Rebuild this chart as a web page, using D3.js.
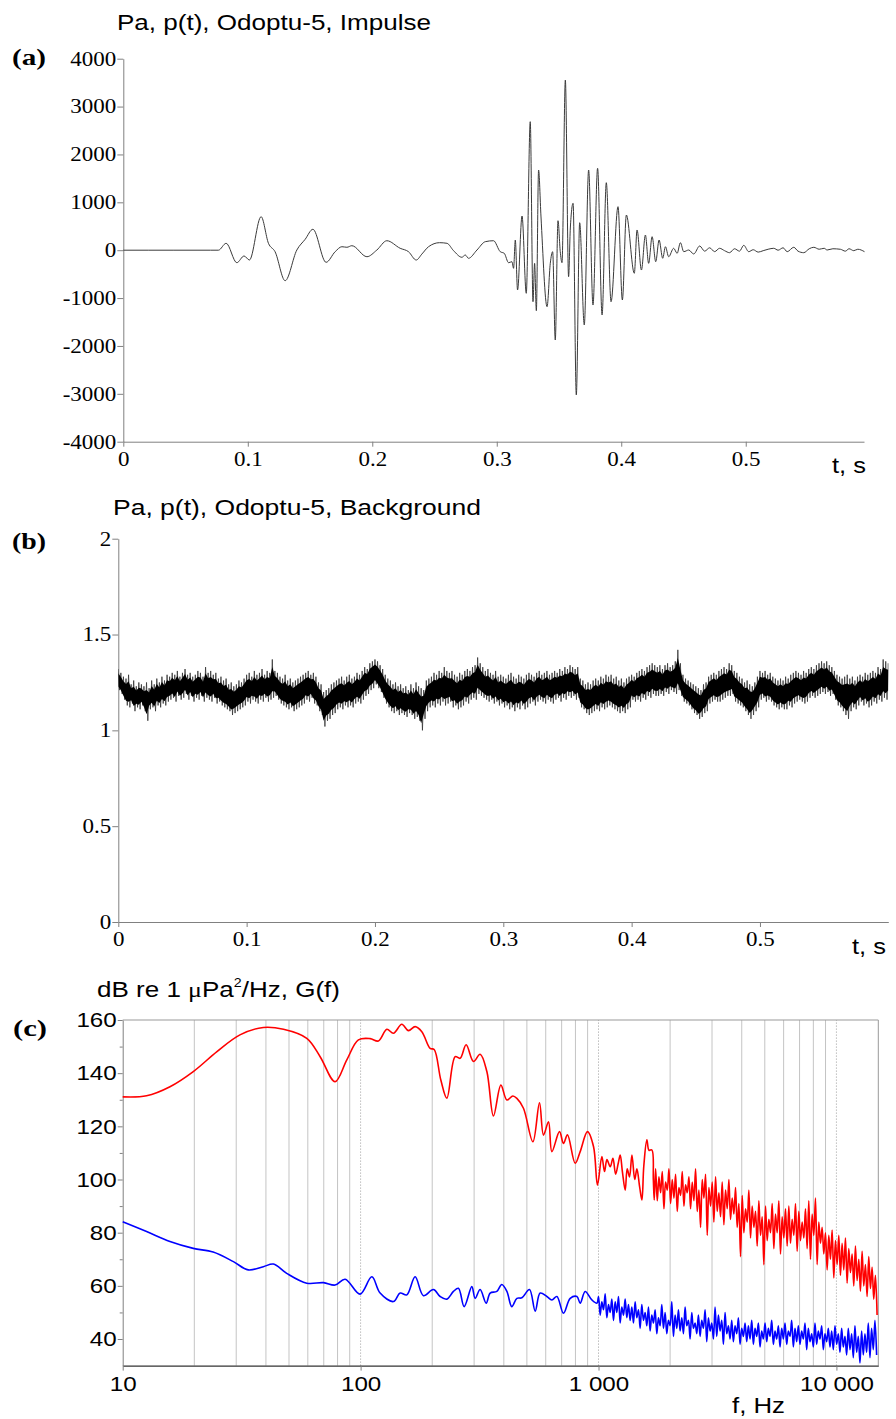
<!DOCTYPE html>
<html>
<head>
<meta charset="utf-8">
<script src="https://cdn.jsdelivr.net/npm/d3@7"></script>
<style>
  body { margin: 0; background: #fff; }
</style>
</head>
<body>
<script>
// (a) impulse: time (s) and pressure (Pa)
const impT = [0, 0.02, 0.04, 0.06, 0.07, 0.0764, 0.0826, 0.0912, 0.0970, 0.1013, 0.1107, 0.1166, 0.1219, 0.1300,
  0.1394, 0.1461, 0.1523, 0.1629, 0.1702, 0.1756, 0.1796, 0.1836, 0.1957, 0.2037,
  0.2117, 0.2224, 0.2291, 0.2353, 0.2399, 0.2452, 0.2540, 0.2600, 0.2653, 0.2720,
  0.2747, 0.2773, 0.2841, 0.2908, 0.2974, 0.3028, 0.3060, 0.3095, 0.3122, 0.3135,
  0.3149, 0.3167, 0.3203, 0.3237, 0.3269, 0.3291, 0.3304, 0.3318, 0.3336, 0.3355,
  0.3404, 0.3430, 0.3449, 0.3470, 0.3492, 0.3510, 0.3524, 0.3551, 0.3577, 0.3591,
  0.3613, 0.3639, 0.3666, 0.3703, 0.3738, 0.3773, 0.3810, 0.3846, 0.3880, 0.3918,
  0.3974, 0.4009, 0.4041, 0.4105, 0.4127, 0.4162, 0.4194, 0.4220, 0.4248, 0.4277,
  0.4304, 0.4333, 0.4355, 0.4381, 0.4421, 0.4449, 0.4475, 0.4502, 0.4542, 0.4582,
  0.4630, 0.4670, 0.4710, 0.4750, 0.4790, 0.4830, 0.4870, 0.4910, 0.4950, 0.4984,
  0.5024, 0.5060, 0.5100, 0.5140, 0.5180, 0.5225, 0.5260, 0.5300, 0.5333, 0.5386,
  0.5420, 0.5466, 0.5510, 0.5547, 0.5590, 0.5630, 0.5654, 0.5700, 0.5761, 0.5800,
  0.5830, 0.5868, 0.5900, 0.5954];
const impP = [0, 0, 0, 0, 0, 0, 144, -261, -121, -205, 700, 144, -31, -637,
  4, 228, 437, -253, -31, 73, 61, 94, -136, 4,
  198, 40, -31, -205, -79, 73, 157, 144, -10, -148,
  -100, -169, 4, 178, 198, -31, -65, -261, -240, -378,
  213, -831, 714, -900, 2684, -1076, -274, -1264, 1675, 714,
  -1180, -274, -31, -1876, 616, -31, -261, 3555, -553, 464,
  980, -3024, 574, -1562, 1675, -1145, 1711, -1353, 1410, -1076,
  909, -1040, 735, -482, 422, -414, 317, -274, 282, -240,
  213, -169, 73, -136, 40, -65, 157, -31, 4, -79,
  88, -20, 50, -30, 40, -10, -52, 30, -20, 102,
  -31, 10, -40, -10, 20, 40, 0, 50, -31, 61,
  -20, -52, 30, 61, 20, 40, 4, 30, 19, -20,
  30, -10, 20, -31];

// (b) background: upper / lower edge of the noise every 2 ms
const bgStep = 0.002;
const bgHi = [
  1.32,1.30,1.28,1.27,1.29,1.24,1.26,1.23,1.25,1.24, 1.23,1.25,1.22,1.26,1.24,1.27,1.25,1.28,1.26,1.29,
  1.28,1.30,1.29,1.31,1.28,1.30,1.32,1.29,1.30,1.28, 1.29,1.31,1.30,1.28,1.33,1.30,1.31,1.29,1.30,1.27,
  1.28,1.26,1.27,1.24,1.25,1.23,1.24,1.26,1.25,1.27, 1.29,1.30,1.28,1.31,1.29,1.30,1.32,1.29,1.31,1.30,
  1.37,1.31,1.30,1.28,1.27,1.29,1.26,1.27,1.25,1.26, 1.27,1.28,1.29,1.30,1.31,1.29,1.30,1.28,1.25,1.24,
  1.20,1.21,1.22,1.24,1.25,1.26,1.27,1.28,1.26,1.28, 1.29,1.27,1.28,1.30,1.29,1.31,1.33,1.32,1.35,1.36,
  1.37,1.36,1.34,1.32,1.29,1.27,1.26,1.24,1.25,1.23, 1.24,1.22,1.23,1.21,1.24,1.22,1.25,1.23,1.22,1.21,
  1.26,1.27,1.28,1.30,1.29,1.31,1.30,1.33,1.31,1.30, 1.31,1.29,1.28,1.30,1.29,1.31,1.32,1.31,1.33,1.34,
  1.38,1.35,1.33,1.31,1.32,1.30,1.29,1.31,1.28,1.29, 1.28,1.27,1.29,1.30,1.28,1.27,1.29,1.28,1.27,1.29,
  1.30,1.29,1.28,1.30,1.31,1.29,1.30,1.31,1.29,1.30, 1.31,1.30,1.32,1.31,1.33,1.32,1.34,1.33,1.32,1.33,
  1.27,1.26,1.24,1.25,1.24,1.26,1.27,1.26,1.28,1.27, 1.29,1.28,1.29,1.27,1.28,1.26,1.27,1.25,1.27,1.28,
  1.29,1.28,1.30,1.31,1.32,1.31,1.33,1.34,1.35,1.34, 1.33,1.34,1.32,1.34,1.35,1.33,1.34,1.36,1.42,1.35,
  1.29,1.27,1.26,1.25,1.24,1.23,1.22,1.21,1.24,1.25, 1.28,1.29,1.30,1.29,1.31,1.32,1.33,1.32,1.35,1.34,
  1.31,1.30,1.28,1.27,1.25,1.26,1.24,1.23,1.25,1.28, 1.31,1.30,1.31,1.29,1.30,1.28,1.27,1.26,1.27,1.26,
  1.28,1.27,1.29,1.30,1.31,1.30,1.29,1.31,1.30,1.32, 1.33,1.32,1.34,1.35,1.36,1.35,1.36,1.34,1.33,1.31,
  1.29,1.28,1.27,1.28,1.29,1.27,1.28,1.26,1.28,1.29, 1.28,1.30,1.29,1.30,1.31,1.30,1.33,1.32,1.37,1.36,
  1.35];
const bgLo = [
  1.21,1.19,1.16,1.13,1.12,1.14,1.10,1.12,1.11,1.13, 1.10,1.05,1.11,1.12,1.10,1.13,1.12,1.14,1.13,1.15,
  1.16,1.17,1.15,1.18,1.16,1.17,1.19,1.16,1.18,1.15, 1.17,1.16,1.18,1.15,1.17,1.16,1.15,1.17,1.14,1.15,
  1.13,1.12,1.11,1.10,1.08,1.09,1.10,1.11,1.12,1.13, 1.15,1.14,1.16,1.15,1.14,1.16,1.15,1.17,1.15,1.16,
  1.17,1.18,1.16,1.14,1.13,1.12,1.11,1.12,1.10,1.11, 1.12,1.13,1.14,1.16,1.15,1.17,1.14,1.13,1.10,1.08,
  1.02,1.05,1.06,1.08,1.09,1.11,1.12,1.11,1.13,1.12, 1.13,1.12,1.14,1.15,1.14,1.16,1.18,1.19,1.21,1.22,
  1.24,1.22,1.20,1.17,1.14,1.12,1.10,1.09,1.10,1.08, 1.09,1.08,1.07,1.09,1.08,1.06,1.07,1.05,1.00,1.06,
  1.10,1.12,1.13,1.12,1.14,1.13,1.15,1.13,1.14,1.15, 1.12,1.13,1.11,1.12,1.13,1.15,1.14,1.16,1.17,1.16,
  1.19,1.18,1.17,1.16,1.15,1.16,1.14,1.15,1.13,1.14, 1.12,1.13,1.11,1.12,1.10,1.12,1.11,1.13,1.11,1.12,
  1.14,1.15,1.13,1.15,1.16,1.15,1.14,1.16,1.15,1.14, 1.16,1.17,1.15,1.17,1.16,1.18,1.17,1.18,1.16,1.17,
  1.12,1.11,1.09,1.08,1.09,1.10,1.11,1.10,1.12,1.11, 1.12,1.13,1.12,1.11,1.10,1.09,1.10,1.09,1.11,1.12,
  1.16,1.15,1.16,1.15,1.17,1.16,1.18,1.17,1.19,1.18, 1.18,1.19,1.18,1.20,1.19,1.21,1.20,1.19,1.21,1.18,
  1.15,1.14,1.13,1.11,1.09,1.08,1.06,1.07,1.09,1.10, 1.14,1.15,1.16,1.15,1.15,1.16,1.17,1.18,1.18,1.19,
  1.15,1.14,1.13,1.12,1.10,1.08,1.06,1.08,1.10,1.12, 1.16,1.17,1.15,1.16,1.15,1.13,1.12,1.11,1.12,1.11,
  1.11,1.13,1.12,1.14,1.15,1.16,1.15,1.14,1.15,1.17, 1.18,1.17,1.18,1.19,1.20,1.19,1.20,1.18,1.19,1.16,
  1.13,1.12,1.10,1.08,1.06,1.10,1.12,1.11,1.13,1.15, 1.13,1.14,1.12,1.13,1.15,1.14,1.16,1.15,1.17,1.16,
  1.18];

// (c) spectra: smooth part as (Hz, dB) pairs, noisy part on a log10(f) grid
const redF = [10, 12.6, 15.8, 19.8, 24.9, 31.1, 39, 47.4, 59.4, 67.6, 78.1, 87.5, 97.9, 109.6, 118.8,
  128.9, 137.4, 149, 158.9, 169.5, 180.9, 196, 203.8, 217.4, 230.4, 249.7, 262.1, 277.7, 298.1, 318,
  339.4, 361.8, 388.7, 412, 436.5, 453.8, 483.7, 529.9, 564.8, 587.1, 616.3, 636.8, 685.5, 712.5, 740.6,
  798, 837.5, 898.7, 952.8, 990, 1033, 1060, 1085, 1120, 1150, 1180, 1210, 1234, 1260, 1295,
  1320, 1350, 1382, 1420, 1450, 1490, 1522, 1550, 1597, 1630, 1677, 1700, 1715];
const redDb = [131.1, 131.5, 134.9, 140.6, 148.1, 154.4, 157.2, 156.5, 153.1, 146.2, 136.8, 145, 152.5, 153, 152.1,
  156.5, 155, 158.4, 156, 157.5, 155.6, 149.3, 148.9, 137.4, 130.6, 146.2, 145.6, 150.7, 144.4, 147.1,
  140.6, 123.9, 135.5, 129.9, 131.4, 130.5, 126.8, 114.2, 128.9, 116.7, 121.7, 110.5, 118, 113.6, 116.8,
  106.1, 110.5, 118, 112.4, 97.9, 108.6, 103, 107.5, 104.8, 108, 102, 106, 109.2, 103, 96,
  104, 101, 109.2, 100, 104, 97, 92.3, 105, 114.9, 111, 111.1, 100, 92.3];
const noiseStep = 0.007;
const redNoiseStart = 3.24;
const redNoiseDb = [104, 92, 101, 95, 103, 89, 99, 96, 104, 91,
  100, 93, 102, 88, 97, 94, 103, 90, 98, 95,
  101, 89, 99, 92, 104, 88, 96, 82, 100, 93,
  102, 79, 97, 90, 99, 84, 101, 88, 95, 86,
  99, 83, 96, 89, 100, 85, 93, 87, 97, 82,
  91, 71, 94, 80, 89, 84, 96, 78, 90, 82,
  88, 75, 92, 79, 86, 68, 90, 77, 85, 80,
  91, 74, 87, 80, 92, 72, 86, 78, 89, 75,
  90, 76, 85, 79, 91, 73, 88, 77, 84, 78,
  89, 74, 92, 70, 87, 79, 93, 68, 84, 76,
  82, 72, 80, 66, 79, 70, 81, 63, 77, 68,
  79, 64, 76, 66, 78, 61, 74, 65, 72, 60,
  75, 62, 70, 58, 73, 60, 68, 56, 71, 59,
  67, 55, 64, 49];
const blueF = [10, 12.6, 15.8, 19.8, 24, 29.2, 33.7, 39, 43, 48.9, 59.4, 69.8, 78.1, 86.1, 99.5,
  111.5, 120.8, 137.4, 146.6, 156.4, 169.5, 183.7, 202.4, 215.9, 230.4, 245.6, 257.8, 272.4, 293.5, 303,
  318, 337.2, 350.4, 373.8, 392, 412, 432, 454, 476, 512.7, 541.8, 568.6, 606.7, 636.8, 668.5,
  712.5, 760.3, 811.5, 837.5, 879, 938, 984.7];
const blueDb = [84.1, 80.4, 76.7, 74.1, 72.7, 69.1, 66, 67.2, 68.2, 64.7, 61, 61.2, 60.3, 62.5, 56.9,
  63.4, 57.3, 54.1, 57.3, 56.6, 63.4, 56.3, 58.6, 56, 55, 57.9, 59.1, 52.2, 59.7, 55.3,
  58.6, 53.5, 57.3, 57.9, 60.5, 57.9, 52.2, 55.3, 55.5, 58.6, 50.5, 57.3, 56, 54.7, 56,
  49.7, 55.3, 56, 53.5, 57.9, 54.7, 53.5];
const blueNoiseStart = 3.0;
const blueNoiseDb = [56, 49, 54, 51, 57, 48, 53, 50, 55, 47,
  54, 50, 56, 46, 52, 49, 55, 48, 53, 47,
  52, 46, 54, 48, 51, 44, 53, 47, 50, 45,
  52, 43, 49, 46, 51, 42, 48, 45, 53, 44,
  50, 42, 47, 45, 54, 41, 49, 44, 51, 43,
  48, 42, 52, 45, 47, 40, 50, 44, 46, 42,
  49, 41, 47, 44, 51, 39, 48, 43, 46, 40,
  52, 41, 49, 43, 47, 38, 50, 42, 45, 40,
  47, 39, 45, 42, 48, 38, 44, 41, 46, 39,
  45, 40, 47, 38, 44, 41, 46, 37, 43, 40,
  46, 39, 44, 41, 47, 38, 43, 40, 45, 37,
  44, 40, 46, 38, 43, 41, 47, 37, 44, 39,
  45, 38, 43, 40, 46, 36, 44, 39, 42, 37,
  46, 38, 43, 40, 45, 36, 42, 39, 44, 37,
  43, 36, 45, 38, 42, 35, 44, 37, 41, 34,
  44, 36, 42, 33, 45, 35, 41, 31, 43, 34,
  42, 35, 46, 33, 44, 36, 47, 34];

// ticks
const tTicks = [0, 0.1, 0.2, 0.3, 0.4, 0.5];
const pTicks = [-4000, -3000, -2000, -1000, 0, 1000, 2000, 3000, 4000];
const bTicks = [0, 0.5, 1, 1.5, 2];
const fTicks = [10, 100, 1000, 10000];
const fTickLabels = ["10", "100", "1 000", "10 000"];
const dbTicks = [40, 60, 80, 100, 120, 140, 160];
const dbMinor = [50, 70, 90, 110, 130, 150];
const gridF = [20, 30, 40, 50, 60, 70, 80, 90, 200, 300, 400, 500, 600, 700, 800, 900,
  2000, 3000, 4000, 5000, 6000, 7000, 8000, 9000];
const dotF = [100, 1000, 10000];

const serif = "'Liberation Serif', 'Times New Roman', serif";
const sans = "'Liberation Sans', Arial, sans-serif";
const axisGrey = "#808080";

const svg = d3.select("body").append("svg")
  .attr("width", 896).attr("height", 1419);

function styleAxis(g, font, size) {
  g.attr("font-family", font).attr("font-size", size);
  g.selectAll(".domain, .tick line").attr("stroke", axisGrey);
  g.selectAll("text").attr("fill", "#000").classed("st", true);
}

function addText(x, y, txt, font, size, len, bold) {
  return svg.append("text")
    .attr("x", x).attr("y", y)
    .attr("font-family", font).attr("font-size", size)
    .attr("font-weight", bold ? "bold" : "normal")
    .attr("textLength", len).attr("lengthAdjust", "spacingAndGlyphs")
    .text(txt);
}

//Panel (a)
const xA = d3.scaleLinear().domain([0, 0.595]).range([123.3, 864]);
const yA = d3.scaleLinear().domain([-4000, 4000]).range([441.7, 58.7]);

svg.append("g").attr("transform", "translate(0,441.7)")
  .call(d3.axisBottom(xA).tickValues(tTicks).tickFormat(d => String(d))
    .tickSize(5).tickSizeOuter(0).tickPadding(5))
  .call(styleAxis, serif, 20);
svg.append("g").attr("transform", "translate(123.3,0)")
  .call(d3.axisLeft(yA).tickValues(pTicks).tickFormat(d => String(d))
    .tickSize(6).tickSizeOuter(0).tickPadding(1))
  .call(styleAxis, serif, 20);

svg.append("path")
  .datum(impT.map((t, i) => [t, impP[i]]))
  .attr("fill", "none")
  .attr("stroke", "#3a3a3a")
  .attr("stroke-width", 1)
  .attr("d", d3.line().x(d => xA(d[0])).y(d => yA(d[1])).curve(d3.curveMonotoneX));

addText(117, 30, "Pa, p(t), Odoptu-5, Impulse", sans, 22, 314);
addText(12, 65, "(a)", serif, 24, 34, true);
addText(832, 473, "t, s", sans, 22, 34);

//Panel (b)
const xB = d3.scaleLinear().domain([0, 0.6]).range([118.3, 888.3]);
const yB = d3.scaleLinear().domain([0, 2]).range([922, 538.7]);

svg.append("defs").append("clipPath").attr("id", "clipB")
  .append("rect").attr("x", 118.3).attr("y", 530).attr("width", 770).attr("height", 392);

svg.append("g").attr("transform", "translate(0,922)")
  .call(d3.axisBottom(xB).tickValues(tTicks).tickFormat(d => String(d))
    .tickSize(5).tickSizeOuter(0).tickPadding(5))
  .call(styleAxis, serif, 20);
svg.append("g").attr("transform", "translate(118.3,0)")
  .call(d3.axisLeft(yB).tickValues(bTicks).tickFormat(d => String(d))
    .tickSize(6).tickSizeOuter(0).tickPadding(1))
  .call(styleAxis, serif, 20);

const bg = bgHi.map((h, i) => ({ t: i * bgStep, hi: h, lo: bgLo[i] }));
const plotB = svg.append("g").attr("clip-path", "url(#clipB)");

plotB.append("path")
  .datum(bg.flatMap(d => [[d.t, d.hi], [d.t + bgStep / 2, d.lo]]))
  .attr("fill", "none")
  .attr("stroke", "#333")
  .attr("stroke-width", 0.8)
  .attr("d", d3.line().x(d => xB(d[0])).y(d => yB(d[1])));

plotB.append("path")
  .datum(bg)
  .attr("fill", "#000")
  .attr("d", d3.area()
    .x(d => xB(d.t))
    .y0(d => yB(d.lo + 0.17 * (d.hi - d.lo)))
    .y1(d => yB(d.lo + 0.8 * (d.hi - d.lo))));

addText(113, 515, "Pa, p(t), Odoptu-5, Background", sans, 22, 368);
addText(12, 549, "(b)", serif, 24, 34, true);
addText(852, 954, "t, s", sans, 22, 34);

//Panel (c)
const xC = d3.scaleLog().domain([10, 15000]).range([122.7, 878.3]);
const yC = d3.scaleLinear().domain([30, 160]).range([1365.6, 1020]);

svg.append("g").selectAll("line").data(gridF).enter().append("line")
  .attr("x1", d => xC(d)).attr("x2", d => xC(d))
  .attr("y1", yC(30)).attr("y2", yC(160))
  .attr("stroke", "#c4c4c4").attr("stroke-width", 1);
svg.append("g").selectAll("line").data(dotF).enter().append("line")
  .attr("x1", d => xC(d)).attr("x2", d => xC(d))
  .attr("y1", yC(30)).attr("y2", yC(160))
  .attr("stroke", "#9a9a9a").attr("stroke-width", 1).attr("stroke-dasharray", "1,2");

// frame top and right
svg.append("path")
  .attr("d", `M${xC(10)},${yC(160)}H${xC(15000)}V${yC(30)}`)
  .attr("fill", "none").attr("stroke", "#999").attr("stroke-width", 1);

svg.append("g").attr("transform", `translate(0,${yC(30)})`)
  .call(d3.axisBottom(xC).tickValues(fTicks).tickFormat((d, i) => fTickLabels[i])
    .tickSize(5).tickSizeOuter(0).tickPadding(5))
  .call(styleAxis, sans, 21)
  .call(g => g.select(".domain").attr("stroke", "#333").attr("stroke-width", 1.3));
svg.append("g").attr("transform", `translate(${xC(10)},0)`)
  .call(d3.axisLeft(yC).tickValues(dbTicks).tickSize(5).tickSizeOuter(0).tickPadding(1))
  .call(styleAxis, sans, 21);
svg.append("g").attr("transform", `translate(${xC(10)},0)`)
  .call(d3.axisLeft(yC).tickValues(dbMinor).tickFormat("").tickSize(3).tickSizeOuter(0))
  .call(g => g.select(".domain").remove())
  .call(g => g.selectAll(".tick line").attr("stroke", axisGrey));

const specLine = d3.line().x(d => xC(d[0])).y(d => yC(d[1])).curve(d3.curveCatmullRom.alpha(0.5));
const redPts = redF.map((f, i) => [f, redDb[i]])
  .concat(redNoiseDb.map((v, i) => [Math.pow(10, redNoiseStart + i * noiseStep), v]));
const bluePts = blueF.map((f, i) => [f, blueDb[i]])
  .concat(blueNoiseDb.map((v, i) => [Math.pow(10, blueNoiseStart + i * noiseStep), v]));

svg.append("path").datum(redPts)
  .attr("fill", "none").attr("stroke", "#ff0000").attr("stroke-width", 1.6)
  .attr("d", specLine);
svg.append("path").datum(bluePts)
  .attr("fill", "none").attr("stroke", "#0000ff").attr("stroke-width", 1.6)
  .attr("d", specLine);

const tc = addText(97, 997, "", sans, 22, 243);
tc.append("tspan").text("dB re 1 ");
tc.append("tspan").attr("font-family", serif).text("\u03bc");
tc.append("tspan").text("Pa");
tc.append("tspan").attr("font-size", 12).attr("dy", -10).text("2");
tc.append("tspan").attr("dy", 10).text("/Hz, G(f)");
addText(13, 1036, "(c)", serif, 24, 34, true);
addText(732, 1413, "f, Hz", sans, 22, 53);

// the source figure is stretched sideways: widen tick labels to match
svg.selectAll("text.st").each(function () {
  const w = this.getComputedTextLength();
  d3.select(this).attr("textLength", w * 1.15).attr("lengthAdjust", "spacingAndGlyphs");
});
</script>
</body>
</html>
